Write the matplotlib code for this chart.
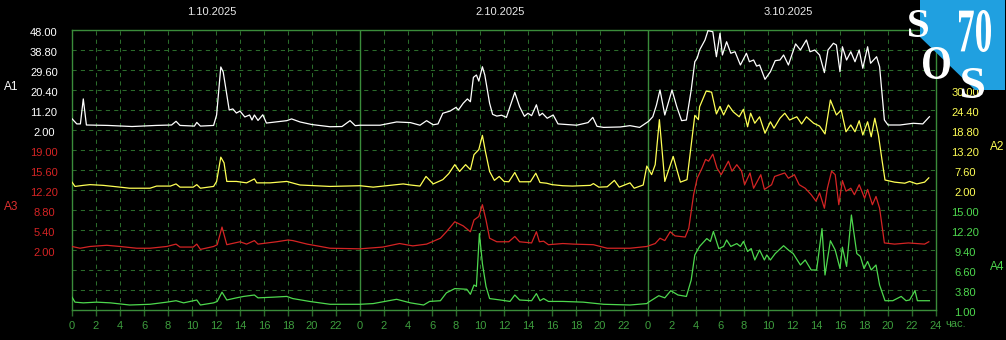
import matplotlib
matplotlib.use("Agg")
import matplotlib.pyplot as plt
from matplotlib.transforms import blended_transform_factory, offset_copy, Affine2D
from matplotlib.textpath import TextPath
from matplotlib.font_manager import FontProperties
from matplotlib.patches import PathPatch, Polygon

# Data: (hour since 1.10 00:00, value)
a1_points = [
    (0, 7.2), (0.4, 4.8), (0.7, 4.8), (0.94, 16.3), (1.2, 4.3), (3, 4.1), (5, 3.6), (7, 4.1),
    (8.3, 4.3), (8.67, 6.0), (9, 4.1), (10.2, 3.8), (10.4, 5.5), (10.7, 3.8), (11.8, 4.1),
    (12.05, 8.9), (12.4, 31.0), (12.6, 28.7), (12.9, 18.1), (13.1, 11.2), (13.4, 11.7),
    (13.7, 9.8), (14, 10.7), (14.4, 8.0), (14.8, 8.9), (15, 6.6), (15.2, 8.9), (15.5, 6.4),
    (15.9, 9.0), (16.2, 5.2), (17, 5.7), (17.9, 6.3), (18.3, 7.1), (19, 5.7), (20, 4.5),
    (21.5, 3.5), (22.5, 3.6), (23.17, 6.3), (23.6, 4.0), (24, 4.2), (25.67, 4.2), (27.05, 5.7),
    (28.2, 5.4), (29, 4.2), (29.55, 6.3), (30.1, 4.4), (30.5, 4.8), (30.9, 9.7), (31.5, 10.7),
    (32, 12.4), (32.2, 11.2), (32.6, 14.3), (32.95, 16.3), (33.2, 15.0), (33.45, 26.2),
    (33.7, 27.3), (33.9, 24.5), (34.2, 31.1), (34.4, 27.3), (34.8, 14.3), (35.05, 9.2),
    (35.4, 8.4), (35.8, 8.8), (36.2, 7.8), (36.9, 19.3), (37.3, 12.7), (37.7, 8.3), (38.0, 9.7),
    (38.3, 8.6), (38.7, 13.6), (38.95, 8.6), (39.2, 9.7), (39.6, 7.4), (40.1, 8.9), (40.5, 4.8),
    (42.05, 4.2), (43.0, 5.4), (43.4, 7.8), (43.75, 3.7), (44.3, 3.2), (45.7, 3.4), (46.5, 4.0),
    (47.3, 3.2), (48.05, 6.0), (48.4, 8.1), (48.7, 13.4), (49.0, 20.4), (49.4, 8.9),
    (50.0, 20.4), (50.4, 12.7), (50.8, 6.3), (51.2, 6.6), (51.6, 20.4), (51.9, 33.4),
    (52.1, 35.1), (52.3, 38.8), (52.75, 43.4), (53.0, 47.7), (53.4, 47.2), (53.7, 35.7),
    (54.0, 46.5), (54.2, 36.5), (54.55, 42.6), (54.9, 37.3), (55.25, 38.0), (55.7, 31.9),
    (56.2, 37.3), (56.45, 33.4), (56.8, 34.2), (57.05, 31.4), (57.3, 31.9), (57.75, 25.3),
    (58.2, 28.8), (58.6, 33.9), (59.0, 34.2), (59.3, 36.5), (59.7, 31.9), (60.3, 41.6),
    (60.7, 38.8), (61.2, 43.4), (61.5, 38.0), (61.9, 38.8), (62.3, 36.5), (62.7, 28.4),
    (63.0, 38.8), (63.45, 41.9), (63.7, 41.1), (64.0, 28.8), (64.2, 40.3), (64.55, 34.2),
    (64.9, 38.0), (65.25, 33.4), (65.6, 38.8), (65.9, 30.4), (66.3, 40.3), (66.55, 32.7),
    (67.05, 35.7), (67.3, 31.1), (67.7, 6.6), (68.0, 4.3), (69.0, 4.3), (70.1, 5.1),
    (70.9, 4.8), (71.45, 8.1),
]

a2_points = [
    (0, 4.2), (0.25, 3.0), (0.94, 3.3), (1.5, 3.5), (2.6, 3.3), (4.0, 2.8), (4.8, 2.5),
    (6.5, 2.5), (7.05, 3.1), (8.2, 3.1), (8.67, 3.7), (9.0, 2.8), (10.1, 2.8), (10.4, 3.5),
    (10.7, 2.5), (11.8, 3.0), (12.05, 4.4), (12.4, 11.2), (12.67, 9.6), (12.9, 4.4),
    (13.7, 4.4), (14.55, 4.0), (15.2, 5.1), (15.4, 4.0), (16.5, 4.0), (17.9, 4.4), (19.0, 3.4),
    (21.5, 3.0), (24.0, 3.2), (25.1, 2.8), (27.6, 3.7), (28.2, 3.4), (29.0, 3.1), (29.5, 5.8),
    (30.1, 3.7), (30.9, 4.9), (31.4, 6.6), (31.9, 9.1), (32.3, 7.2), (32.8, 9.1), (33.2, 7.7),
    (33.5, 11.9), (33.9, 13.3), (34.2, 17.3), (34.45, 12.8), (34.8, 7.2), (35.2, 4.7),
    (35.6, 5.8), (36.0, 4.4), (36.4, 4.3), (36.9, 6.9), (37.3, 4.3), (38.2, 4.3), (38.65, 6.7),
    (39.0, 4.1), (39.55, 3.9), (40.0, 3.5), (40.9, 3.2), (41.7, 3.1), (43.2, 3.3), (43.45, 3.8),
    (43.9, 2.8), (44.6, 2.9), (45.2, 4.7), (45.6, 2.8), (46.5, 4.0), (46.85, 2.5), (47.6, 3.4),
    (47.9, 8.7), (48.3, 6.3), (48.6, 9.1), (48.95, 21.7), (49.4, 4.4), (50.1, 11.4),
    (50.7, 4.2), (51.25, 4.9), (51.9, 22.9), (52.2, 21.7), (52.3, 25.3), (52.85, 29.7),
    (53.3, 29.4), (53.7, 23.3), (54.0, 25.4), (54.3, 23.0), (54.7, 25.8), (55.1, 23.9),
    (55.6, 22.5), (55.95, 24.6), (56.3, 19.7), (56.55, 23.5), (56.9, 20.7), (57.3, 22.5),
    (57.75, 17.9), (58.2, 21.1), (58.5, 19.3), (59.0, 22.1), (59.4, 23.5), (59.8, 21.6),
    (60.4, 22.5), (60.8, 20.5), (61.2, 22.5), (61.8, 20.7), (62.3, 19.9), (62.75, 17.7),
    (63.2, 27.2), (63.7, 23.0), (64.1, 24.4), (64.5, 18.3), (64.9, 20.2), (65.25, 18.3),
    (65.6, 21.4), (65.9, 17.4), (66.3, 21.1), (66.6, 16.9), (66.9, 22.1), (67.2, 17.4),
    (67.5, 10.4), (67.75, 4.8), (68.55, 4.2), (69.4, 3.9), (69.8, 4.4), (70.4, 3.7),
    (71.05, 4.2), (71.4, 5.4),
]

a3_points = [
    (0, 2.6), (0.67, 2.3), (1.5, 2.6), (2.9, 2.8), (4.0, 2.6), (5.4, 2.3), (6.5, 2.3),
    (7.9, 2.6), (8.67, 3.0), (9.0, 2.5), (10.1, 2.5), (10.4, 3.0), (10.7, 2.1), (11.8, 2.6),
    (12.1, 2.9), (12.5, 5.9), (12.9, 2.9), (14.0, 3.4), (14.55, 3.0), (15.2, 3.6), (15.5, 3.0),
    (17.05, 3.4), (18.0, 3.7), (18.4, 3.6), (19.6, 3.0), (20.7, 2.6), (21.5, 2.3), (24.0, 2.2),
    (25.9, 2.5), (27.3, 3.1), (28.4, 2.7), (29.55, 3.0), (30.7, 4.0), (31.2, 5.1), (31.9, 6.8),
    (32.6, 6.1), (33.2, 5.1), (33.5, 7.1), (33.9, 7.7), (34.2, 9.7), (34.5, 7.1), (34.8, 4.0),
    (35.4, 3.4), (36.4, 3.4), (36.9, 4.3), (37.3, 3.4), (38.3, 3.2), (38.7, 5.1), (38.95, 3.4),
    (39.3, 3.5), (39.7, 2.9), (40.9, 3.1), (41.8, 3.0), (43.45, 2.9), (44.6, 2.3), (46.5, 2.3),
    (47.9, 2.6), (48.6, 3.1), (49.0, 4.0), (49.4, 3.6), (49.85, 5.1), (50.25, 4.4), (51.1, 4.2),
    (51.4, 5.7), (51.8, 11.4), (52.1, 14.2), (52.5, 15.9), (52.8, 17.4), (53.05, 17.1),
    (53.4, 18.3), (53.75, 15.9), (54.1, 14.8), (54.7, 17.1), (55.0, 15.4), (55.4, 16.5),
    (55.8, 15.4), (56.05, 13.1), (56.5, 15.1), (56.8, 12.5), (57.4, 14.8), (57.7, 12.3),
    (58.3, 13.1), (58.55, 14.5), (59.4, 15.1), (59.7, 14.2), (60.2, 14.8), (60.6, 13.1),
    (61.1, 12.5), (61.6, 11.4), (62.0, 10.3), (62.3, 11.7), (62.7, 9.1), (62.95, 12.5),
    (63.3, 15.4), (63.6, 14.8), (63.9, 9.7), (64.2, 13.8), (64.5, 12.0), (64.9, 12.5),
    (65.2, 11.4), (65.6, 13.1), (66.05, 10.8), (66.3, 12.3), (66.7, 9.7), (67.0, 11.1),
    (67.3, 9.1), (67.7, 3.2), (68.55, 3.0), (69.7, 3.2), (71.05, 3.0), (71.4, 3.4),
]

a4_points = [
    (0, 2.8), (0.25, 2.1), (0.94, 2.0), (2.05, 2.1), (3.2, 2.0), (4.8, 1.7), (6.5, 1.8),
    (7.9, 2.1), (8.67, 2.3), (9.3, 2.0), (10.4, 2.4), (10.7, 1.7), (11.8, 2.0), (12.1, 2.2),
    (12.5, 3.5), (12.9, 2.4), (13.7, 2.7), (14.3, 2.9), (15.2, 3.1), (15.5, 2.7), (16.8, 2.8),
    (17.9, 2.9), (18.4, 2.6), (19.8, 2.2), (21.5, 1.8), (24.0, 1.8), (25.1, 1.9), (27.05, 2.5),
    (28.2, 2.0), (29.3, 1.7), (29.8, 2.2), (30.7, 2.3), (31.2, 3.4), (31.9, 4.0), (32.9, 3.9),
    (33.2, 3.2), (33.5, 4.5), (33.7, 4.3), (33.95, 11.7), (34.2, 7.5), (34.5, 4.3), (34.8, 2.6),
    (35.7, 2.4), (36.5, 2.2), (36.9, 3.1), (37.3, 2.4), (38.3, 2.3), (38.7, 3.3), (39.0, 2.3),
    (39.3, 2.6), (39.7, 2.2), (40.9, 2.2), (42.6, 2.1), (44.3, 1.8), (46.5, 1.7), (47.9, 1.9),
    (48.05, 2.1), (48.9, 3.0), (49.4, 2.7), (49.9, 3.7), (50.5, 3.1), (51.2, 2.9), (51.6, 5.2),
    (51.9, 8.7), (52.3, 9.9), (52.9, 11.0), (53.2, 10.6), (53.45, 12.0), (53.9, 9.6),
    (54.3, 9.9), (54.55, 10.8), (54.9, 9.9), (55.4, 10.3), (55.7, 9.9), (55.95, 10.6),
    (56.3, 9.2), (56.6, 9.6), (56.9, 8.0), (57.3, 9.4), (57.7, 8.0), (57.9, 8.7), (58.2, 8.0),
    (58.6, 8.9), (59.3, 10.0), (59.7, 9.4), (60.1, 8.9), (60.7, 7.3), (61.1, 8.0), (61.6, 6.6),
    (62.05, 6.6), (62.5, 12.4), (62.75, 5.9), (63.2, 10.7), (63.6, 9.4), (64.0, 6.8),
    (64.2, 9.8), (64.55, 7.1), (64.95, 14.3), (65.4, 8.9), (65.7, 8.5), (66.0, 6.8),
    (66.3, 7.8), (66.6, 6.6), (67.0, 7.3), (67.3, 4.5), (67.75, 2.3), (68.4, 2.3), (69.1, 2.9),
    (69.5, 2.3), (69.8, 2.4), (70.25, 3.7), (70.45, 2.3), (71.45, 2.3),
]

a1_ticks = [48.00, 38.80, 29.60, 20.40, 11.20, 2.00]
a2_ticks = [30.00, 24.40, 18.80, 13.20, 7.60, 2.00]
a3_ticks = [19.00, 15.60, 12.20, 8.80, 5.40, 2.00]
a4_ticks = [15.00, 12.20, 9.40, 6.60, 3.80, 1.00]
dates = ["1.10.2025", "2.10.2025", "3.10.2025"]
hour_labels = [str(h % 24) for h in range(0, 72, 2)] + ["24"]

GRID = "#2b6b2b"
FRAME = "#3a8c3a"
TICKTXT = "#3e9e3e"
FONT = "Liberation Sans"
FS = 8

W, H = 1006, 340
fig = plt.figure(figsize=(W / 100, H / 100), dpi=100)
fig.patch.set_facecolor("black")

# plot box: x 72..936 px, y 30..310 px
ax = fig.add_axes([72 / W, (H - 310) / H, 864 / W, 280 / H])
ax.set_facecolor("black")
ax.set_xlim(0, 72)
ax.set_ylim(0, 14)
ax.set_xticks(range(0, 73, 2))
ax.set_xticklabels(hour_labels, color=TICKTXT, fontsize=FS, fontfamily=FONT)
ax.set_yticks(range(15))
ax.tick_params(axis="x", length=4, width=1, color=GRID, pad=4)
ax.tick_params(axis="y", length=0, labelleft=False)
ax.grid(True, color=GRID, linestyle=(0, (4, 4)), linewidth=0.75)
for x in (24, 48):
    ax.axvline(x, color=FRAME, lw=1)
for s in ax.spines.values():
    s.set_color(FRAME)
    s.set_linewidth(1)
ax.text(72.75, -0.0, "час.", transform=offset_copy(ax.transData, fig=fig, y=-14, units="dots"),
        color=TICKTXT, fontsize=FS, fontfamily=FONT, ha="left", va="center")


def band(lo, step, idx_lo, color, pts, tick_vals, label_x, name, name_x, name_y):
    tw = ax.twinx()
    tw.axis("off")
    tw.set_ylim(lo - idx_lo * step, lo + (14 - idx_lo) * step)
    t, v = zip(*pts)
    tw.plot(t, v, color=color, lw=0.9)
    tr = offset_copy(blended_transform_factory(fig.transFigure, tw.transData), fig=fig, y=-3, units="dots")
    for val in tick_vals:
        tw.text(label_x / W, val, f"{val:.2f}", transform=tr, ha="center", va="center",
                color=color, fontsize=FS, fontfamily=FONT)
    fig.text(name_x / W, 1 - name_y / H, name, ha="center", va="center",
             color=color, fontsize=FS + 0.5, fontfamily=FONT)
    return tw


band(2.0, 9.2, 9, "white", a1_points, a1_ticks, 44, "A1", 11, 87)
band(2.0, 5.6, 6, "#ffff55", a2_points, a2_ticks, 965, "A2", 997, 147)
band(2.0, 3.4, 3, "#d42424", a3_points, a3_ticks, 44, "A3", 11, 207)
band(1.0, 2.8, 0, "#4ed84e", a4_points, a4_ticks, 965, "A4", 997, 267)

# fix label colour: A3/A4 label text slightly different from lines
for t in fig.texts:
    if t.get_text() == "A3":
        t.set_color("#e03030")

# dates over each day
dtr = blended_transform_factory(ax.transData, fig.transFigure)
for i, d in enumerate(dates):
    ax.text(12 - 0.33 + 24 * i, 1 - 12 / H, d, transform=dtr, ha="center", va="center",
            color="#e8e8e8", fontsize=FS, fontfamily=FONT)

# logo
ov = fig.add_axes([0, 0, 1, 1])
ov.set_xlim(0, W)
ov.set_ylim(H, 0)
ov.axis("off")
ov.add_patch(Polygon([(920, 0), (1005, 0), (1005, 90), (975, 90), (920, 37)],
                     closed=True, facecolor="#20a0e0", edgecolor="none"))
fp = FontProperties(family="Liberation Serif", weight="bold")


def glyph(s, x0, y0, x1, y1):
    tp = TextPath((0, 0), s, size=1, prop=fp)
    bb = tp.get_extents()
    tr = (Affine2D().translate(-bb.x0, -bb.y0)
          .scale((x1 - x0) / bb.width, -(y1 - y0) / bb.height)
          .translate(x0, y1))
    ov.add_patch(PathPatch(tr.transform_path(tp), facecolor="white", edgecolor="none"))


glyph("S", 909, 10, 928, 37)
glyph("70", 959, 10, 991, 52)
glyph("O", 923, 47, 950, 79)
glyph("S", 962, 68, 984, 98)

fig.savefig("out.png", dpi=100, facecolor="black")
